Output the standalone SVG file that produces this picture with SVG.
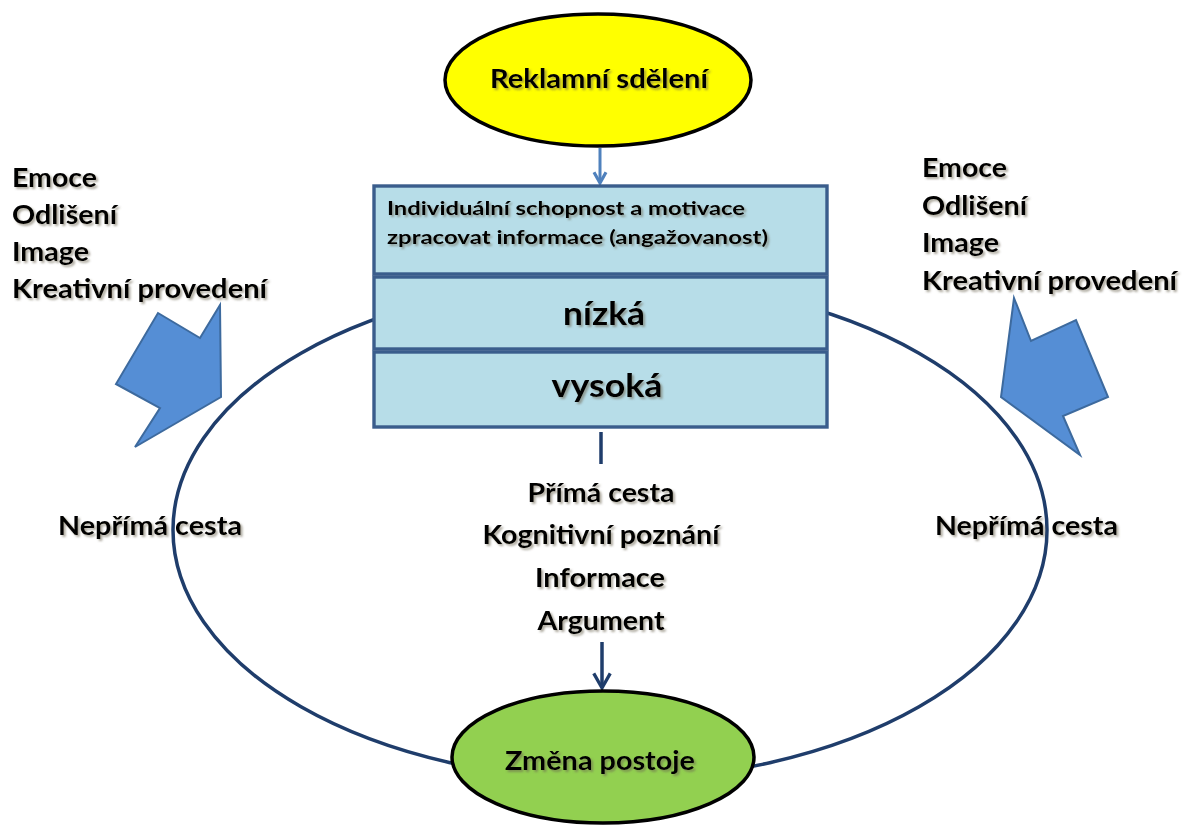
<svg xmlns="http://www.w3.org/2000/svg" width="1182" height="825" viewBox="0 0 1182 825">
  <defs>
    <filter id="txtShadow" x="-10%" y="-30%" width="120%" height="160%">
      <feGaussianBlur in="SourceAlpha" stdDeviation="1.3" result="b"/>
      <feOffset in="b" dx="1.6" dy="1.8" result="o"/>
      <feFlood flood-color="#6b6450" flood-opacity="0.55"/>
      <feComposite in2="o" operator="in" result="s"/>
      <feMerge><feMergeNode in="s"/><feMergeNode in="SourceGraphic"/></feMerge>
    </filter>
    <marker id="arrBlue" viewBox="0 0 12 12" refX="10" refY="6" markerWidth="16" markerHeight="16" markerUnits="userSpaceOnUse" orient="auto">
      <path d="M2,1.5 L10,6 L2,10.5" fill="none" stroke="#4f81bd" stroke-width="2.4" stroke-linejoin="miter"/>
    </marker>
    <marker id="arrNavy" viewBox="0 0 12 12" refX="10" refY="6" markerWidth="22" markerHeight="22" markerUnits="userSpaceOnUse" orient="auto">
      <path d="M2,1.5 L10,6 L2,10.5" fill="none" stroke="#1f3d6b" stroke-width="1.8" stroke-linejoin="miter"/>
    </marker>
  </defs>
  <style>
    text { font-family: Lato, "Open Sans", "Liberation Sans", sans-serif; font-weight: bold; fill: #000; filter: url(#txtShadow); }
    .lbl { font-size: 26px; }
    .mid { text-anchor: middle; }
    .box { fill: #b7dde8; stroke: #3a5d8c; stroke-width: 3.4; }
    .boxTxt { font-size: 19px; }
    .lvl { font-size: 32px; text-anchor: middle; }
    .blk { fill: #558ed5; stroke: #3d6a9e; stroke-width: 2; stroke-linejoin: miter; }
    .loop { fill: none; stroke: #1f3d6b; stroke-width: 3.5; }
  </style>

  <rect width="1182" height="825" fill="#ffffff"/>

  <!-- connectors -->
  <g id="connectors">
    <ellipse class="loop" cx="610" cy="530" rx="437" ry="250"/>
    <line x1="600" y1="148" x2="600" y2="183" stroke="#4f81bd" stroke-width="3" marker-end="url(#arrBlue)"/>
    <line x1="601" y1="432" x2="601" y2="464" stroke="#1f3d6b" stroke-width="3.5"/>
    <line x1="602" y1="642" x2="602" y2="688" stroke="#1f3d6b" stroke-width="3.5" marker-end="url(#arrNavy)"/>
  </g>

  <!-- source message -->
  <g id="node-reklama">
    <ellipse cx="598" cy="80" rx="153" ry="66" fill="#ffff00" stroke="#000" stroke-width="3.5"/>
    <text class="lbl mid" x="599" y="88" textLength="218" lengthAdjust="spacingAndGlyphs">Reklamní sdělení</text>
  </g>

  <!-- involvement block -->
  <g id="node-angazovanost">
    <rect class="box" x="374" y="186" width="453" height="88"/>
    <text class="boxTxt" x="387" y="215" textLength="358" lengthAdjust="spacingAndGlyphs">Individuální schopnost a motivace</text>
    <text class="boxTxt" x="387" y="244" textLength="381" lengthAdjust="spacingAndGlyphs">zpracovat informace (angažovanost)</text>
  </g>
  <g id="node-nizka">
    <rect class="box" x="374" y="277" width="453" height="72"/>
    <text class="lvl" x="604" y="325" textLength="82" lengthAdjust="spacingAndGlyphs">nízká</text>
  </g>
  <g id="node-vysoka">
    <rect class="box" x="374" y="352" width="453" height="75"/>
    <text class="lvl" x="607" y="397" textLength="111" lengthAdjust="spacingAndGlyphs">vysoká</text>
  </g>

  <!-- peripheral cues, left -->
  <g id="node-cues-left">
    <text class="lbl" x="12" y="187" textLength="85" lengthAdjust="spacingAndGlyphs">Emoce</text>
    <text class="lbl" x="12" y="224" textLength="105" lengthAdjust="spacingAndGlyphs">Odlišení</text>
    <text class="lbl" x="12" y="261" textLength="77" lengthAdjust="spacingAndGlyphs">Image</text>
    <text class="lbl" x="12" y="298" textLength="255" lengthAdjust="spacingAndGlyphs">Kreativní provedení</text>
    <polygon class="blk" points="158,313 200,338 220,305 221,397 135,447 160,408 116,384"/>
  </g>

  <!-- peripheral cues, right -->
  <g id="node-cues-right">
    <text class="lbl" x="922" y="177" textLength="85" lengthAdjust="spacingAndGlyphs">Emoce</text>
    <text class="lbl" x="922" y="215" textLength="105" lengthAdjust="spacingAndGlyphs">Odlišení</text>
    <text class="lbl" x="922" y="252" textLength="77" lengthAdjust="spacingAndGlyphs">Image</text>
    <text class="lbl" x="922" y="290" textLength="255" lengthAdjust="spacingAndGlyphs">Kreativní provedení</text>
    <polygon class="blk" points="1014,298 1031,341 1076,320 1108,397 1063,416 1080,455 1001,397"/>
  </g>

  <!-- route labels -->
  <g id="node-neprima-left">
    <text class="lbl" x="58" y="535" textLength="184" lengthAdjust="spacingAndGlyphs">Nepřímá cesta</text>
  </g>
  <g id="node-neprima-right">
    <text class="lbl" x="935" y="535" textLength="183" lengthAdjust="spacingAndGlyphs">Nepřímá cesta</text>
  </g>
  <g id="node-prima">
    <text class="lbl mid" x="601" y="502" textLength="147" lengthAdjust="spacingAndGlyphs">Přímá cesta</text>
    <text class="lbl mid" x="601" y="544" textLength="237" lengthAdjust="spacingAndGlyphs">Kognitivní poznání</text>
    <text class="lbl mid" x="600" y="587" textLength="130" lengthAdjust="spacingAndGlyphs">Informace</text>
    <text class="lbl mid" x="601" y="630" textLength="127" lengthAdjust="spacingAndGlyphs">Argument</text>
  </g>

  <!-- outcome -->
  <g id="node-zmena">
    <ellipse cx="603" cy="757" rx="151" ry="66" fill="#92d050" stroke="#000" stroke-width="3.5"/>
    <text class="lbl mid" x="600" y="770" textLength="190" lengthAdjust="spacingAndGlyphs">Změna postoje</text>
  </g>
</svg>
